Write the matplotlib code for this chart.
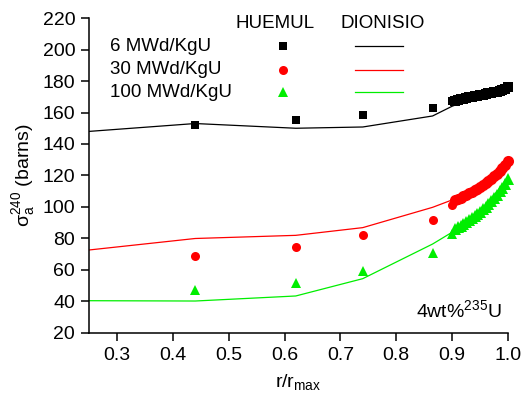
import matplotlib
matplotlib.use("Agg")
import matplotlib.pyplot as plt
from matplotlib.lines import Line2D

plt.rcParams['font.family'] = ['Liberation Sans', 'DejaVu Sans']
plt.rcParams['mathtext.fontset'] = 'custom'
plt.rcParams['mathtext.rm'] = 'Liberation Sans'
plt.rcParams['mathtext.it'] = 'Liberation Sans'
plt.rcParams['mathtext.sf'] = 'Liberation Sans'

# HUEMUL (markers) - coarse points
r_pts = [0.44, 0.62, 0.74, 0.865, 0.90]
h6 = [152, 155, 158.5, 163, 167]
h30 = [69, 74.5, 82, 92, 101.5]
h100 = [47, 51.5, 59.5, 70.5, 83]

# HUEMUL dense rim points
r_rim = [0.905, 0.910, 0.915, 0.920, 0.925, 0.930, 0.935, 0.940, 0.945, 0.950,
         0.955, 0.960, 0.965, 0.970, 0.975, 0.980, 0.985, 0.990, 0.995, 1.000]
h6_rim = [167.5, 168.0, 168.4, 168.8, 169.2, 169.6, 170.0, 170.3, 170.7, 171.0,
          171.4, 171.7, 172.1, 172.5, 172.9, 173.3, 173.8, 174.4, 175.1, 176.0]
h30_rim = [104.3, 105.1, 105.9, 106.8, 107.7, 108.6, 109.6, 110.6, 111.7, 112.8,
           114.0, 115.3, 116.6, 118.0, 119.5, 121.1, 122.8, 124.7, 126.8, 129.0]
h100_rim = [86.0, 87.0, 88.1, 89.2, 90.4, 91.6, 92.9, 94.2, 95.6, 97.1,
            98.7, 100.3, 102.0, 103.8, 105.7, 107.7, 109.9, 112.3, 114.9, 118.0]

# DIONISIO (lines)
r_line = [0.25, 0.44, 0.62, 0.74, 0.865, 0.90, 0.95, 1.00]
d6 = [148, 153, 150, 150.8, 157.8, 164, 170.5, 176]
d30 = [72.7, 80, 82, 86.9, 99.8, 104.5, 112.5, 129]
d100 = [40.5, 40.3, 43.5, 54.5, 76.5, 84, 97, 118]

labels = ["6 MWd/KgU", "30 MWd/KgU", "100 MWd/KgU"]
colors = ["black", "#ff0000", "#00ee00"]
markers = ["s", "o", "^"]
msizes = [6, 6.5, 7.5]
rim_sizes = [7, 8, 9]

fig = plt.figure(figsize=(5.28, 4.01), dpi=100)
ax = fig.add_axes([0.1686, 0.1696, 0.7936, 0.7855])

for hp, hr, d, c, m, ms, rs in zip([h6, h30, h100], [h6_rim, h30_rim, h100_rim],
                                    [d6, d30, d100], colors, markers, msizes, rim_sizes):
    ax.plot(r_line, d, color=c, lw=0.9, zorder=2)
    ax.plot(r_pts, hp, ls='none', marker=m, color=c, ms=ms, mew=0, zorder=3, clip_on=False)
    ax.plot(r_rim, hr, ls='none', marker=m, color=c, ms=rs, mew=0, zorder=3, clip_on=False)

ax.set_xlim(0.25, 1.0)
ax.set_ylim(20, 220)
ax.set_xticks([0.3, 0.4, 0.5, 0.6, 0.7, 0.8, 0.9, 1.0])
ax.set_xticklabels(["0.3", "0.4", "0.5", "0.6", "0.7", "0.8", "0.9", "1.0"])
ax.set_yticks(range(20, 221, 20))
ax.spines['top'].set_visible(False)
ax.spines['right'].set_visible(False)
for s in ['left', 'bottom']:
    ax.spines[s].set_linewidth(1.1)
ax.tick_params(direction='out', length=6, width=1.1, labelsize=14, pad=4)
ax.set_xlabel(r"r/r$_{\mathregular{max}}$", fontsize=14, labelpad=6)
ax.set_ylabel(r"$\mathregular{\sigma_a^{240}}$ (barns)", fontsize=14, labelpad=4)

# custom legend
ax.text(0.444, 0.984, "HUEMUL", transform=ax.transAxes, ha='center', va='center', fontsize=13.5)
ax.text(0.70, 0.984, "DIONISIO", transform=ax.transAxes, ha='center', va='center', fontsize=13.5)
rows_y = [0.911, 0.835, 0.765]
for lab, c, m, ms, yy in zip(labels, colors, markers, msizes, rows_y):
    ax.text(0.05, yy, lab, transform=ax.transAxes, ha='left', va='center', fontsize=13.5)
    ax.add_line(Line2D([0.463], [yy], transform=ax.transAxes, ls='none', marker=m,
                       color=c, ms=ms, mew=0))
    ax.add_line(Line2D([0.635, 0.749], [yy, yy], transform=ax.transAxes, color=c, lw=0.9))

ax.text(0.986, 0.073, r"4wt%$^{\mathregular{235}}$U", transform=ax.transAxes,
        ha='right', va='center', fontsize=14)

fig.savefig("out.png", dpi=100)
